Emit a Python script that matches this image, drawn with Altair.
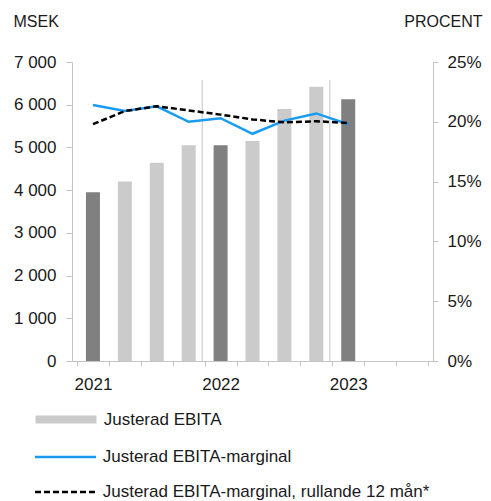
import altair as alt
import pandas as pd

# ---- data ----
quarters = ["Q1 2021", "Q2 2021", "Q3 2021", "Q4 2021",
            "Q1 2022", "Q2 2022", "Q3 2022", "Q4 2022",
            "Q1 2023"]
n_slots = 11                      # Q1 2021 .. Q3 2023 on the axis
years = ["2021", "2022", "2023"]
ebita = [3950, 4200, 4640, 5050, 5050, 5150, 5900, 6420, 6130]
margin = [21.4, 20.9, 21.3, 20.0, 20.3, 19.0, 20.1, 20.7, 19.8]
rolling = [19.8, 20.9, 21.3, 20.95, 20.6, 20.2, 19.95, 20.05, 19.9]
msek_ticks = [0, 1000, 2000, 3000, 4000, 5000, 6000, 7000]
pct_ticks = [0, 5, 10, 15, 20, 25]
sep_top = 6580

lbl_bar = "Justerad EBITA"
lbl_bar_q1 = "Justerad EBITA, första kvartalet"
lbl_m = "Justerad EBITA-marginal"
lbl_r = "Justerad EBITA-marginal, rullande 12 mån*"

# ---- styles ----
FONT = "Liberation Sans"
TXT = "#1a1a1a"
GREY = "#c4c4c4"
LIGHT = "#cbcbcb"
DARK = "#808080"
BLUE = "#1a9bf2"
DASH = [6, 3]

pos = [i + 0.5 for i in range(len(quarters))]
is_q1 = [q.startswith("Q1") for q in quarters]
bars_df = pd.DataFrame({
    "kvartal": quarters,
    "pos": pos,
    "ebita": ebita,
    "typ": [lbl_bar_q1 if f else lbl_bar for f in is_q1],
})
year_pos = [p for p, f in zip(pos, is_q1) if f]
sep_pos = [p - 0.5 for p, f in zip(pos, is_q1) if f][1:]
rules_df = pd.DataFrame({"pos": sep_pos, "top": [sep_top] * len(sep_pos),
                         "bottom": [0] * len(sep_pos)})
m_df = pd.DataFrame({"pos": pos, "pct": margin, "serie": lbl_m})
r_df = pd.DataFrame({"pos": pos, "pct": rolling, "serie": lbl_r})

# x axis: ticks at slot edges, year labels at slot centres
x_vals = sorted(set(list(range(n_slots + 1)) + year_pos))
expr = "''"
for p, y in zip(reversed(year_pos), reversed(years)):
    expr = f"datum.value == {p} ? '{y}' : " + expr
x_axis = alt.Axis(
    values=x_vals, labelExpr=expr, title=None, grid=False,
    tickOpacity={"condition": {"test": "datum.value % 1 === 0", "value": 1}, "value": 0},
    tickSize=5, tickColor=GREY, domainColor=GREY, labelPadding=10,
    labelFontSize=17, labelColor=TXT, labelOverlap=False, labelFlush=False,
)
x_scale = alt.Scale(domain=[0, n_slots], nice=False, zero=False)
x_enc = alt.X("pos:Q", scale=x_scale, axis=x_axis)
msek_scale = alt.Scale(domain=[0, 7000], nice=False)
pct_scale = alt.Scale(domain=[0, 25], nice=False)

y_left_axis = alt.Axis(
    values=msek_ticks, labelExpr="replace(format(datum.value, ','), ',', ' ')",
    title="MSEK", titleAngle=0, titleX=-59, titleY=-36, titleAlign="left",
    titleBaseline="alphabetic", titleFontSize=16, titleFontWeight="normal",
    titleColor=TXT, tickSize=6, tickColor=GREY, domainColor=GREY,
    labelPadding=10, labelFontSize=17, labelColor=TXT, grid=False,
)
y_right_axis = alt.Axis(
    orient="right", values=pct_ticks, labelExpr="datum.value + '%'",
    title="PROCENT", titleAngle=0, titleX=49, titleY=-36, titleAlign="right",
    titleBaseline="alphabetic", titleFontSize=16, titleFontWeight="normal",
    titleColor=TXT, tickSize=5, tickColor=GREY, domainColor=GREY,
    labelPadding=9, labelFontSize=17, labelColor=TXT, grid=False,
)

bars = alt.Chart(bars_df).mark_bar(size=14).encode(
    x=x_enc,
    y=alt.Y("ebita:Q", scale=msek_scale, axis=y_left_axis),
    color=alt.Color("typ:N",
                    scale=alt.Scale(domain=[lbl_bar, lbl_bar_q1], range=[LIGHT, DARK]),
                    legend=alt.Legend(
                        values=[lbl_bar], orient="none", legendX=-14.5, legendY=349,
                        title=None, padding=0,
                        symbolType="M-4,-0.525H4V0.525H-4Z", symbolSize=232.6,
                        symbolStrokeWidth=0, symbolOpacity=1,
                        labelOffset=29.2, labelFontSize=17, labelColor=TXT,
                        labelLimit=0)),
)

rules = alt.Chart(rules_df).mark_rule(color=GREY, strokeWidth=1, xOffset=-2.4).encode(
    x=x_enc,
    y=alt.Y("top:Q", scale=msek_scale, axis=None),
    y2="bottom:Q",
)


def line_legend(y, dash):
    return alt.Legend(
        orient="none", legendX=-15.5, legendY=y, title=None, padding=0,
        symbolType="M-4,0H4", symbolSize=232.6, symbolStrokeWidth=2.5,
        symbolDash=dash, labelOffset=28.2, labelFontSize=17, labelColor=TXT,
        labelLimit=0,
    )


line_m = alt.Chart(m_df).mark_line(strokeWidth=2.5).encode(
    x=x_enc,
    y=alt.Y("pct:Q", scale=pct_scale, axis=y_right_axis),
    color=alt.Color("serie:N", scale=alt.Scale(domain=[lbl_m], range=[BLUE]),
                    legend=line_legend(386, [1, 0])),
)
line_r = alt.Chart(r_df).mark_line(strokeWidth=2.5, strokeDash=DASH).encode(
    x=x_enc,
    y=alt.Y("pct:Q", scale=pct_scale, axis=None),
    color=alt.Color("serie:N", scale=alt.Scale(domain=[lbl_r], range=["#000000"]),
                    legend=line_legend(421, DASH)),
)

chart = alt.layer(bars, rules, line_m, line_r).resolve_scale(
    y="independent", color="independent"
).properties(
    width=361, height=299,
    autosize=alt.AutoSizeParams(type="none"),
    padding={"left": 64, "top": 54, "right": 50, "bottom": 141},
).configure(font=FONT).configure_view(stroke=None)

chart.save("out.html", embed_options={"renderer": "svg", "actions": False})
